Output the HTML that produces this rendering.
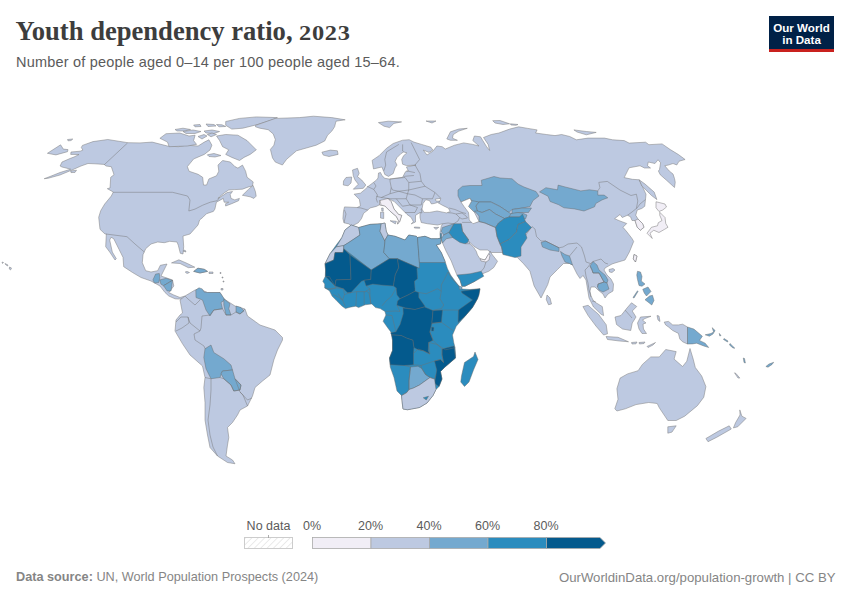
<!DOCTYPE html>
<html><head><meta charset="utf-8">
<style>
html,body{margin:0;padding:0;background:#fff;width:850px;height:600px;overflow:hidden;position:relative}
.t{position:absolute;white-space:nowrap}
#title{left:15.5px;top:16px;font-family:"Liberation Serif",serif;font-weight:bold;font-size:26.6px;color:#3d3d3d;letter-spacing:0px}
#sub{left:16px;top:53.5px;font-family:"Liberation Sans",sans-serif;font-size:14.5px;letter-spacing:0.2px;color:#5b5b5b}
#logo{position:absolute;left:769px;top:16px;width:65px;height:36px;background:#002147}
#logo .bar{position:absolute;left:0;bottom:0;width:65px;height:3px;background:#c9211e}
#logo .lt{position:absolute;left:0;width:65px;text-align:center;color:#fff;font-family:"Liberation Sans",sans-serif;font-weight:bold;font-size:11.6px;letter-spacing:0px;line-height:13px}
.lg{font-family:"Liberation Sans",sans-serif;font-size:12.5px;color:#5b5b5b}
.ft{font-family:"Liberation Sans",sans-serif;font-size:12.7px;color:#858585;top:570px}
svg{position:absolute;left:0;top:0}
</style></head><body>
<svg width="850" height="600" style="position:absolute;left:0;top:0">
<g fill="#bdc9e1" stroke="#7d7d7d" stroke-width="0.5" stroke-linejoin="round"><polygon points="351.9,226 358.3,222.8 361.5,218.6 363.6,213.3 367.8,210.1 369.9,208 376.3,206.4 379.5,204.8 384.8,205.9 390.1,211.2 396.4,216.5 398.5,220.7 397.5,223.9 399.5,222 401.7,215.4 398.5,214.4 394,209 391.1,201.6 388,198.5 394.3,201.6 400.7,208 407,214.4 411.2,217.5 413.4,221.8 411.2,223.9 415.5,222 415.5,215.4 420,212.5 420,217.5 421.25,222.5 427.5,223.75 437.5,225 442.5,223.75 441.25,226.25 440,232.5 440.5,238 442.5,243 446,251 451.25,261 454,268 456.9,275 460,280 461.9,286.25 465,286.25 475,281.25 482.5,273.75 488.75,271.25 493.75,267.5 497.5,261.25 492.5,255 490,251.25 488.75,253.75 485,260 480,258.75 477.5,255 476.25,251.25 473.75,247.5 470,243.75 468.75,241.25 473.75,246.25 480,250 487.5,250 491.25,252.5 500,252.5 502.5,252.5 517.2,257.3 523.5,263.7 529.9,271.1 534.1,285.9 541,298 547.75,284.5 550,277 557.5,269.5 563.5,263.5 569.5,263.5 572.5,265 577,274 580,278.5 583,275.5 586,280 587.5,289 589,298 593.5,307 601.1,314.3 603.6,315.6 602.3,306.6 595.9,302.7 593,300 591,296 590,291 591,287 595,287 598,290 603,294 605,298 608,294 613,291 613.5,284 611,279 607,275 604,270 605,268 612,264 615,263 625,260 629.4,252 633.7,241.4 632,238.5 627,232 623,227.25 626.75,223.5 620,221 614.6,218.7 620,214.5 622.25,217.5 627.5,215.25 630.5,216.75 632,220.5 635,220.5 637.25,227.25 640.25,230.25 644,227.25 642.5,223.5 638,219 635.75,215.25 637.25,210 641.75,208.5 644.75,206.25 645.5,199.5 646,194.2 639.2,179.8 632.4,179.3 624.2,177.6 629.1,167.8 640,165.75 644.5,168 650.5,168 647.5,165.75 648.25,162 655,163.5 658,159.75 660.6,162.75 659.5,169.5 658.4,171 660.25,174.75 666.25,180 674.5,187.5 675.25,182.25 674.5,178.5 673,174 669.25,171 664.75,165.75 668.5,165 673,163.5 676.75,165 679,161.25 685.1,159.5 678.5,154.6 670.3,149.6 662.1,143.9 648.9,144.7 645.6,142.2 629.1,143.1 624.2,140.6 612.6,139.8 604.4,138.1 588,138.1 576.4,139.8 569.8,136.5 561.6,134.5 555,135.6 546.3,134.5 535.6,133 537.1,129.9 527.9,128.4 518.7,126.8 509.6,129.1 498.9,133 491.2,134.5 483.5,137.5 488.1,144.4 489.7,150.5 486.6,146.7 482.8,140.6 480.5,136.8 474.4,136 472.8,140.6 479,146 472.8,144.4 463.7,142.9 454.5,145.2 445.3,149 442.2,146.7 436.9,146 433,151 427,155 423.3,150.1 429,152.4 432.8,150.1 430.9,147.2 421.5,144.4 413.9,142.1 409.2,139.7 402.6,140.2 393.2,143.5 386.6,148.2 379.1,155.7 372.1,160.4 373.5,168.9 381.9,167 383.8,171.7 384.8,174.5 388.5,176.4 393.2,173.6 395.1,167.9 397,165.1 395.1,161.3 397,157.6 400.8,153.8 403.6,151.9 406.9,152.9 403.6,155.7 401.7,159.5 402.6,164.2 406.4,165.6 415.8,165.1 408.3,166.5 406.4,167 408.3,170.8 405.5,171.7 402.6,177.3 396,178.3 390.4,179.2 384.8,178.3 381.9,175.5 380.5,172.5 378.5,173 378,178 376.3,180.2 372,183.5 368,186.5 365,189.4 360.4,193.2 354.1,194.2 359.4,199.5 360.4,205.9 357.2,207.5 344.5,206.9 343.5,211.2 342.9,218.6 344,222.8 348.8,223.9"/><polygon points="352.5,170 357.5,168.3 359.2,173.3 357.5,176.7 361.7,180 365.8,185 363.3,188.3 353.3,189.2 358.3,184.2 355,180 353.3,175.8"/><polygon points="343.5,181 346,177.5 351.7,177 351,183 348,185.8 343.3,185"/><polygon points="378.4,122.6 388.2,121.2 401.6,121.9 393.9,123.4 389.6,127.6 384,126.2"/><polygon points="426,121 436,121 432,123"/><polygon points="446.8,138.9 450.4,131.8 458.8,129 467.3,128.3 458.8,131.1 453.2,134.6 452.5,138.2 457.4,140.3 450.4,140.3"/><polygon points="492.7,120.7 500,120.5 509.6,123.8 503,124.5 495,123"/><polygon points="510.3,123.8 518,124.5 516,125.3 511,125"/><polygon points="573.9,129.9 586.3,131.5 596.2,132.4 586.3,134.8 577,132"/><polygon points="380.5,212.2 383.7,212.2 383.7,218.6 380.5,218"/><polygon points="381.6,208 383.2,208 383.2,211.2 381.8,211"/><polygon points="390.1,220.7 396.4,221.3 395.4,223.9"/><polygon points="414.4,227 419.7,227.3 419.7,228.3 414.4,228"/><polygon points="433.75,227.5 438.75,227.3 436,229.4"/><polygon points="547,295 550,298 551.5,304 548.5,304.75 546.25,299.5"/><polygon points="634,254.5 637,256 635.5,262 633.25,259"/><polygon points="609,269.5 613,268.5 615,270 612,272.5 609.5,272"/><polygon points="639.2,179.8 645,184 654.2,192.1 656.9,199.6 651.5,195.5 641.9,186"/><polygon points="582.9,306.6 588.1,305.3 598.5,314.3 606.2,324.7 607.5,333.8 603.6,335 595.9,326 588.1,315.6"/><polygon points="606,336.5 618,337.25 628.5,341.75 619.5,341 607.5,339.5"/><polygon points="631.5,342.5 637,342 636,343.8 632,344"/><polygon points="639,342.5 645,342 644,343.5 639.5,344"/><polygon points="647,346.5 655.5,342.5 653,345 648,347.5"/><polygon points="657,315.5 659,316 660,321.5 658,320"/><polygon points="615,317 621,315.5 627,308 631.5,302.75 636.75,306.5 632.25,311 636,317 632.25,323 630.75,330.5 622.5,329 616.5,324.5"/><polygon points="640.5,317 651,316.25 645,318.5 642.5,320 646,323 643,324 643.5,329 646.5,333.5 642,333.5 639,329 637.5,323 639.75,318.5"/><polygon points="664.2,322.1 668.5,321.4 672.7,324.9 678.4,324.9 682.6,324.2 687.5,327 687.5,344 682.6,341.8 679.8,339 678.4,333.4 672.7,330.5 668.5,327 665.6,324.9"/><polygon points="614.8,408.8 618,399.3 616.9,388.7 620.1,378.1 627.5,373.9 638.1,370.7 642.4,364.4 650.8,356.9 659.3,356.9 665.7,349.5 676.2,351.6 674.1,359.1 682.6,366.5 686.8,361.2 690,348.5 693.2,359.1 695.3,367.5 701.7,376 705.9,386.6 703.8,397.2 697.4,405.7 684.7,416.2 676.2,420.5 667.8,420.5 663.5,414.1 659.3,407.8 657.2,403.5 648.7,402.5 636,404.6 625.4,408.8 616.9,411"/><polygon points="667.8,426.8 676.2,425.8 672,432.1 667.8,433.2"/><polygon points="739.8,409.9 741.9,416.2 746.1,418.4 737.7,426.8 733.4,427.9 735.6,422.6 740,415"/><polygon points="729.2,425.8 731.3,429 716.5,437.4 708,441.7 705.9,438.5 718.6,431.1"/><polygon points="734.5,372.8 736,373.5 739.8,378.1 738,378"/><polygon points="44.2,178.7 50,176.5 60,172.5 70.7,169.2 66,168 62,167 60.1,166 62,162 70,158.5 74,157 79,154.5 70.7,154.4 71,152 80.2,151.2 82.9,150.1 81.3,147.5 82.4,145.4 93,141.6 107.8,139.5 127.9,142.7 140,142.9 152.2,142.1 167.5,146 178.3,146.7 185.9,145.2 198.1,146 204.3,142.1 208.9,139.8 211.9,145.2 210,150 204.3,154.4 193.6,159 187.4,166.6 189,171.2 198.1,174.3 202.7,177.3 203.5,185 206.6,185 208.9,178.9 216.5,175.8 218.8,171.2 218,165.1 222.6,160.5 230.3,162 234.9,166.6 237.9,168.1 242.5,165.1 245.6,171.2 247.1,177.3 253.2,181.9 252.4,186.1 248.6,186.9 242.4,189.2 234.8,189.6 228.7,190 224.1,193 219.5,196.8 218,198.4 221.8,196.1 227.1,192.6 232.5,191.5 230.2,194.5 231,198.4 234.8,199.9 239.4,198.4 238.6,200.7 231.7,203.7 225.6,206 225.6,203.7 228.7,202.2 224.1,202.2 223.3,198.4 216.4,202.2 214.9,209.1 213.4,211.4 206.5,213.7 202.7,217.5 199.6,220 198,225 190,234 183,236 183.7,246.7 183,254 180.3,253.3 178.3,245.3 177,242 169.7,241.3 164.3,242.7 157.7,242 151,244 145.7,248.7 143,254.7 142.3,262.7 145.7,270.7 151,272 157.7,270.7 160.3,265.3 167,264 163,272 161,276 172.5,280 173.8,286 168.8,292.5 173.8,295 180,297.5 185,296 183,299 178,299 175,298.8 168.8,296 165,292.5 160,286 151,281 141,277.5 132.5,272.5 123.7,266.7 123,257.3 119,249.3 113.7,238.7 111,237.3 109.7,240 112.3,252 116.3,258.7 115,260 109.7,252 105.7,246.7 106.3,234 105,234 100,229.3 98.7,217.3 100.7,210.7 104.7,204 111.3,196 113.3,192 107.3,188.7 110,188 110.7,177.3 114,174.7 111.3,166.7 106,166 104.1,164.4 95,163.8 88,163.5 81,166 72,170 60,175 48,178.3"/><polygon points="47.4,153.3 60.6,144.8 63.3,149.1 68,149.6 67.5,151.7 55.9,154.9"/><polygon points="67.5,139.5 72.8,139 71,140.6 68,140.8"/><polygon points="70.7,171 76.5,170.2 75,172.4 71,172.6"/><polygon points="159.9,138.3 166,133.7 179.8,133 189,136 195.1,135.2 193.6,140.6 196.6,144.4 187.4,146 169.1,146.7 167.5,142.1"/><polygon points="216.5,136 225.7,134.5 237.9,135.2 247.1,140.6 250.2,143.7 256.3,149.8 250.2,154.4 244,157.4 239.5,160.5 231.8,157.4 225.7,154.4 228.7,149.8 222.6,146.7 219.6,140.6"/><polygon points="207.3,154.8 214,153.5 221,155.5 215,157 209,156.5"/><polygon points="175,129.5 183,128.2 190.5,129.5 185,131 177,131"/><polygon points="183,131.5 193,130 201,131.5 195,133.5 186,133.5"/><polygon points="193.6,125 200,124.5 201,126.5 195,126.8"/><polygon points="206,124 214,124.5 216,126 208,126.5"/><polygon points="204,131 212,130 219.6,131.5 214,133.5 206,133"/><polygon points="198,136.5 204,134.5 207,136 202,139"/><polygon points="225.7,121.5 239.5,118.4 256.3,116.9 277.4,117.6 272.5,119.8 257,124.7 242.8,128.2 231.8,129.1 225.7,125.3"/><polygon points="255.5,125.4 275.3,118.4 299.3,117.6 313.4,116.2 331.8,117.6 345.2,119.8 336,121.2 334.6,126.8 331.8,131.1 327.5,135.3 324.7,141 316.2,145.2 306.4,148 296.5,150.8 286.6,159.3 282.4,165 275.3,162.1 272.5,157.9 270.4,149.4 273.9,145.2 275.3,139.5 273.2,133.9 268.2,129.7 259.8,128.2 255.5,126.8"/><polygon points="242.4,195.3 248.6,189.2 253.1,185.4 255.4,191.5 256.2,196.1 253.9,198.4 250.1,196.8"/><polygon points="321.9,152.2 330.4,150.1 337.4,150.8 338.1,154.4 329,156.5 323.3,155.1"/><polygon points="171.5,262.9 178.9,259.8 187.4,263.5 194.8,267.2 188.4,267.7 180,263.5"/><polygon points="185.2,272 187,271.4 189.5,272.5 187,273.5"/><polygon points="193.7,271.4 197.9,268.2 204.3,269.3 207.5,271.4 200,273"/><polygon points="209,272 213,272 213,273.5 209,273.5"/><polygon points="185,296 195,290 198.8,288.8 207.5,292.5 220,292.5 223.8,298.8 235,306 245,309 247.5,316 260,325 275,330 282.5,337.5 282.5,340 277.5,350 273.8,360 270,375 262.5,381 255,387.5 252.5,396 247.5,406 240,410 237.5,415 232.5,422.5 227.5,427.5 228.8,437.5 227.5,445 226,456 232.5,460 235,463.75 227.5,462.5 217.5,456 210,447.5 207.5,435 205,420 205,402.5 203.8,387.5 205,377.5 202.5,366 190,355 182.5,343.8 175,331 176,320 180,315 182.5,313 180,300"/><polygon points="220,272.5 221,272.5 221,273.5 220,273.5"/><polygon points="222,277 223,277 223,278 222,278"/><polygon points="223,281 224,281 224,282 223,282"/><polygon points="221,288.5 223,288.5 223,290 221,290"/><polygon points="183,251 185,250 186,252"/><polygon points="2,262 3.5,262.5 2.5,263.5"/><polygon points="5,263.5 8,265 7.5,266 5.5,264.5"/><polygon points="9.5,267 11.5,268 10.5,270 9.3,269"/><polygon points="216.5,124.5 222,124.8 225.7,126.5 219,126.8"/><polygon points="207.3,134.5 212,133 216.5,134.5 211,136.8"/></g>
<g stroke="#6a6a6a" stroke-width="0.45" stroke-linejoin="round"><polygon fill="#2b8cbe" points="351.25,225 358.75,227.5 370,224.4 381.25,223.75 385,223 386.25,231.25 388,235 395,236.25 405,240 408.75,235 416.25,236.25 417.5,237.5 425,236.25 431.25,238.75 437.5,238.75 441.25,238.1 440.6,243.75 436.25,245 441.25,252.5 445,261.25 447.5,268.75 450.6,275 455,281 459,286 462,289 470,289.5 480,288.75 477.5,298.75 472.5,307.5 465,316.25 456.25,326.25 452.5,335 453.75,342.5 455,347.5 455.6,355 455.5,358 445,367 440.5,371.5 442,379 439,386.5 436,389.5 433,395.5 427,403 419.5,407.5 407.5,409.75 403,409 402.25,403 401.5,395.5 397,391 394,377.5 390.25,367 389.5,358 392.5,350.5 392.5,340 391.25,332.5 387.5,327.5 383.1,321.25 385.9,315 384.9,311.4 380.2,308.6 375.5,307.6 371.8,303.9 365.2,304.8 358.6,307.6 355.8,306.2 350.1,307.2 345.4,308.6 341.6,305.8 336,300.1 332.2,296.3 329.4,290.7 324.7,287.9 324.7,284.1 322.8,281.3 325.2,276.6 325.6,270 325,263.75 330,253.75 336.25,245 341.9,237.5 345,230"/><polygon fill="#2b8cbe" points="475,352 478,359.5 473.5,370 469,382 464.5,386.5 460.75,382 461.5,376 464.5,362.5 473.5,356.5"/><polygon fill="#bdc9e1" points="351.25,225 358.75,227.5 360,235 348.75,242.5 343.75,245.6 336.25,246.9 341.9,237.5 345,230"/><polygon fill="#bdc9e1" points="336.25,246.9 343.75,245.6 343.75,248.75 343.1,252.5 335,252.5 333.75,260 325,263.75 330,253.75"/><polygon fill="#74a9cf" points="358.75,227.5 370,224.4 381.25,223.75 380,231.25 385,241.25 383.75,252.5 389.4,258.75 371.25,270 343.75,248.75 343.75,245.6 348.75,242.5 360,235"/><polygon fill="#bdc9e1" points="381.25,223.75 385,223 386.25,231.25 388,235 385,240 385,241.25 380,231.25"/><polygon fill="#74a9cf" points="388,235 395,236.25 405,240 408.75,235 416.25,236.25 417.5,237.5 419.4,262.5 419.4,268.1 417.5,267.5 397.5,258.75 389.4,258.75 383.75,252.5 385,241.25 385,240"/><polygon fill="#74a9cf" points="417.5,237.5 425,236.25 431.25,238.75 437.5,238.75 441.25,238.1 440.6,243.75 436.25,245 441.25,252.5 445,261.25 445,262.5 419.4,262.5"/><polygon fill="#045a8d" points="325,263.75 333.75,260 335,252.5 343.1,252.5 343.75,248.75 350,255 351,279.4 336,279.9 335,286 325.6,276.6 325.6,270"/><polygon fill="#045a8d" points="350,255 371.25,270 370.8,279.4 364.2,280.3 361.4,281.3 351,292.6 347.3,292.6 343.5,288.8 335,286 336,279.9 351,279.4"/><polygon fill="#045a8d" points="371.25,270 389.4,258.75 397.5,258.75 398.75,267.5 395.3,274.7 393.4,286 381.2,285.1 372.7,284.1 366.1,286 364.2,280.3 370.8,279.4"/><polygon fill="#045a8d" points="397.5,258.75 417.5,267.5 416.9,268.75 417.5,278.75 414.4,281.25 415,288.75 415,291.25 408,295 400,298.75 397,295 396.2,287.9 393.4,286 395.3,274.7 398.75,267.5"/><polygon fill="#045a8d" points="400,298.75 408,295 415,291.25 418.75,292.5 418.75,297.5 425,306.25 424.5,306.9 415,309.5 405.4,307.9 396.9,305.3 397.5,301"/><polygon fill="#045a8d" points="403,308 415,309.5 424.5,306.9 433,310.6 431.9,323.3 429.8,331.8 433,340.2 428.7,342.4 428.2,350.8 429.8,354 423.4,350.8 418.1,349.8 413.9,347.6 412.8,340.2 406.5,338.1 401.2,335.5 391.6,334.9 390.6,332.8 395.9,331.8 400.1,324.4 403.3,313.8"/><polygon fill="#045a8d" points="391.6,334.9 401.2,335.5 406.5,338.1 412.8,340.2 413.9,347.6 413.5,353.5 413.5,364.75 404.5,365.5 390.25,364.75 389.5,358 392.5,350.5 392.5,340"/><polygon fill="#045a8d" points="433,310.6 442.5,310.1 441.4,322.2 431.9,323.3"/><polygon fill="#045a8d" points="461.25,291.25 470,290 480,288.75 479,295 477.5,298.75 472.5,307.5 465,316.25 458.1,322.5 458.4,310.1 472.5,300 462,293"/><polygon fill="#045a8d" points="442,349 454,346 455.5,358 445,367 440.5,371.5 442,379 439,386.5 434.5,383.5 436,374.5 436.75,370 434.5,361 440.5,359.5 443.5,362.5 442,355"/><polygon fill="#045a8d" points="431.5,327 434,327.5 433.5,331 431.5,331"/><polygon fill="#74a9cf" points="410.5,367 418,366.25 421.75,368.5 425.5,374.5 430,377.5 419.5,385 413.5,388 409,389.5 409,380.5"/><polygon fill="#bdc9e1" points="401.5,395.5 406.75,392.5 409,389.5 413.5,388 419.5,385 430,377.5 434.5,379 436,389.5 433,395.5 427,403 419.5,407.5 407.5,409.75 403,409 402.25,403"/><polygon fill="#2b8cbe" points="423.25,397.75 428.5,396.25 426.25,400"/><polygon fill="#74a9cf" points="459,286 462,287 462,289 459.5,289.5"/><polygon fill="#74a9cf" points="470,198.25 479,202 476,206 477.5,211 474.5,212.5 468.5,206.5 471.5,201.25"/><polygon fill="#74a9cf" points="458,190 462.5,186.25 470,185.5 482,185.5 481.25,180.25 494,176.5 500,178 512,178.75 518,184 524,187 536,191.5 539,196 533,200.5 530,206.5 522.5,208 512,209.5 509,212.5 500,206.5 491,202 479,202 471.5,200.5 470,198.25 461,202 458,196"/><polygon fill="#74a9cf" points="479,202 491,202 500,206.5 509,212.5 512,214 509,217 504.5,218.5 495.5,214 489.5,209.5 482,212.5 477.5,211 476,206"/><polygon fill="#74a9cf" points="474.5,211 477.5,211 482,212.5 489.5,209.5 495.5,214 504.5,218.5 498.5,223 495.5,227.5 485,223 479,221.5 479,216"/><polygon fill="#74a9cf" points="512,209.5 522.5,208 531.5,208 528.5,212.5 518,212.5 512,214"/><polygon fill="#74a9cf" points="509,217 511,213.5 518,212.5 522.5,213 527,215 525.5,219 519.5,217 515,217"/><polygon fill="#2b8cbe" points="495.5,227.5 498.5,223 504.5,218.5 509,217 515,217 519.5,217 522.5,214 525.5,221.5 518,224.5 516.5,232 509,239.5 500,244 497,236.5"/><polygon fill="#2b8cbe" points="500,244 509,239.5 516.5,232 518,224.5 525.5,221.5 531.5,227.5 525.5,233.5 527,238 521,247 521,256 515,257.5 503,254.5 501.5,247"/><polygon fill="#74a9cf" points="539.5,191.9 545.9,187.7 557.5,189.8 558.1,185.1 566,187.2 572.4,188.8 580.8,190.9 589.3,189.8 597.8,190.9 597.8,195.1 604.1,195.1 607.8,197.8 602,199.9 595.7,203.6 594.6,206.8 584,211 574.5,208.9 563.9,207.8 558.6,204.7 550.1,201.5 548,196.2"/><polygon fill="#74a9cf" points="541,242.5 545.5,241 559,247.75 559,251.5 550,250 542.5,247"/><polygon fill="#74a9cf" points="560.5,251.5 565,254.5 569.5,256 572.5,265 569.5,263.5 565,262 562,256"/><polygon fill="#74a9cf" points="590,266 593,261.5 597,265 599,270 605,275 608,280 607,283 604,282 599,273 593,273 592,270"/><polygon fill="#74a9cf" points="598,284 604,282 607,283 609,289 603,292 599,290 597.5,287"/><polygon fill="#2b8cbe" points="448.75,232.5 453.75,223.75 461.25,223.75 462.5,231.25 468.75,240 467.5,242.5 465,243.75 460,242.5 452.5,237.5"/><polygon fill="#74a9cf" points="442.5,227.5 453.75,223.75 448.75,232.5 443.75,235 441.25,231.25"/><polygon fill="#74a9cf" points="443.75,235 448.75,232.5 452.5,237.5 446.25,238.75 442.5,243 441.25,238.75"/><polygon fill="#2b8cbe" points="440.2,233.5 441.5,233.5 441.5,238 440.3,238"/><polygon fill="#2b8cbe" points="457,275 470,273.75 481.25,271.25 483.75,276.25 475,281.25 465,286.25 461.9,286.25 460,280"/><polygon fill="#f1eef6" points="480,258.75 485,260 488.75,253.75 490,255 489,260 486,262 481,261"/><polygon fill="#f1eef6" points="656,201.75 665,204 666.5,207 662.75,210 659,211.5 656,207.75"/><polygon fill="#f1eef6" points="659.75,212.25 665,217.5 665.75,223.5 668,227.25 664.25,229.5 659,232.5 653.75,230.25 650,233.25 652.25,238.5 647,233.25 651.5,227.25 657.5,225.75 658.25,222.75 662,220.5 659.75,215.25"/><polygon fill="#f1eef6" points="635,220.5 638,219 642.5,223.5 644,227.25 640.25,230.25 637.25,227.25"/><polygon fill="#f1eef6" points="379.5,200.6 388,198.5 391.1,201.6 394,209 398.5,214.4 401.7,215.4 399.5,222 397.5,223.9 398.5,220.7 396.4,216.5 390.1,211.2 384.8,205.9 379.5,204.8"/><polygon fill="#74a9cf" points="637.5,271.25 640.5,272 642,276.5 641.25,281 645,284 642,286.25 639,285.5 637.5,279.5 636.75,275"/><polygon fill="#74a9cf" points="645,299.75 649.5,296 652.5,295.25 654,300.5 651.75,305 648,302"/><polygon fill="#74a9cf" points="633,297.5 637.5,290.75 638,291.5 634,298"/><polygon fill="#74a9cf" points="642.75,289.25 648,287 651,291.5 646.5,296 644.25,293"/><polygon fill="#74a9cf" points="687.5,327 693.9,329.1 702.4,336.2 699.5,340.4 705.2,343.2 708.7,347.5 703.8,346 696.7,343.2 692.5,343.9 687.5,344"/><polygon fill="#74a9cf" points="705.2,334.8 711,333.5 713.6,331.9 712.2,327.7 715.1,330.5 713,334 709.4,336.2"/><polygon fill="#74a9cf" points="719.3,333.4 721,335.5 719.8,336"/><polygon fill="#74a9cf" points="724,338.5 728,341 727.5,342 723.5,339.5"/><polygon fill="#74a9cf" points="730,343.5 734.8,348.2 733,348 729.5,345"/><polygon fill="#74a9cf" points="743.3,358 744.5,358.5 745.4,363 744,362.5"/><polygon fill="#74a9cf" points="765.9,366.5 769,364 773.7,362.3 772,364.5 768,367.2"/><polygon fill="#74a9cf" points="152.9,279.9 155.6,274.1 159.3,273.5 159.8,277.8 158.8,282.5 154.5,283.1"/><polygon fill="#74a9cf" points="159.8,279.9 166.2,278.3 172.5,280.4 163.5,285.7 160.9,284.1"/><polygon fill="#74a9cf" points="163.5,285.7 172.5,280.4 171,291 167.2,291"/><polygon fill="#74a9cf" points="193.7,271.4 197.9,268.2 204.3,269.3 207.5,271.4 200,273"/><polygon fill="#74a9cf" points="195.8,290 199,287.8 202.2,288.9 204.3,292.1 207.5,292.5 220,292.5 225,300 221,302.5 222.5,308.8 213.8,310 210,316 206,310 202.5,300 196,297.5"/><polygon fill="#74a9cf" points="223.8,298.8 230,303.8 228.8,308.8 231,315 226,315 223.8,305"/><polygon fill="#74a9cf" points="236,306 241,307.5 244,311 240,314 236,312"/><polygon fill="#74a9cf" points="205,348.75 211,345 213.8,352.5 223.8,358.75 231,365 232.5,370 222.5,371 220,377.5 211,378.75 206,368.75 203.8,357.5"/><polygon fill="#74a9cf" points="222.5,371 232.5,370 235,378.75 241,385 240,390 233.75,391 231,385 223.75,378.75 221,373.75"/><polygon fill="#f1eef6" points="634,254.5 637,256 635.5,262 633.25,259"/></g>
<g fill="none" stroke="#6f6f6f" stroke-width="0.45" stroke-linejoin="round"><polyline points="418.75,292.5 426.25,293.75 437.5,288.75 441.25,291.25"/><polyline points="441.25,291.25 440,298.75 443.75,305 441.25,308.75 433.75,310"/><polyline points="441.25,291.25 441.25,285 444,280 448,272"/><polyline points="448,272 452,279 459,286"/><polyline points="442.5,310.1 452.5,310 458.4,310.1"/><polyline points="441.4,322.2 453.1,330.7"/><polyline points="431.9,323.3 441.4,322.2"/><polyline points="429.8,331.8 433,340.2 437.2,344.5 445.6,349.8 455.2,347.6"/><polyline points="413.5,353.5 418,349 423.4,350.8 429.8,354 428.7,342.4 437.2,344.5 442,349 442,355 443.5,362.5 440.5,359.5 434.5,361 430,362.5 421,365.5 413.5,364.75"/><polyline points="421,365.5 421.75,368.5 425.5,374.5 430,377.5 434.5,379 436,374.5"/><polyline points="404.5,365.5 410.5,367 409,380.5 409,389.5 406.75,392.5 401.5,395.5"/><polyline points="325.6,276.6 329.4,276.6 335,286 336,287.9 328.5,288.8 324.7,287.9"/><polyline points="329.4,289.8 336,287.9 343.5,288.8 344.5,294.5 342.6,300.1 338.8,297.3 333.2,294.5"/><polyline points="337.9,293.5 342.6,300.1 345.4,306.6"/><polyline points="344.5,294.5 351,292.6 356.7,291.6 355.8,306.2"/><polyline points="356.7,291.6 365.2,291.6 369.9,288.8 366.1,286"/><polyline points="364.2,291.6 364.2,304.8"/><polyline points="366,291 369,293 370.8,303.9"/><polyline points="369.9,288.8 369.9,293.5 370.8,303.9"/><polyline points="396.2,287.9 391.5,296.3 385.9,301.1 382.1,305.8"/><polyline points="385.9,311.4 396,311 400,311.4 396.9,305.3"/><polyline points="385.9,315 392,315.5 395.9,331.8"/><polyline points="366.9,186.25 373.75,189.4 377.5,195 376.25,198.75 377.5,202.5"/><polyline points="373.75,182.5 376,186 373.75,189.4"/><polyline points="390,178.75 390,181.25 391.25,187.5 390,193.75 381.25,197.5 376.25,196.25"/><polyline points="390,178.75 405,177.5 408.75,182.5 408.75,190 398.75,191.25 392.5,190 391.25,187.5"/><polyline points="408.75,182.5 421.25,181.25 425,186.25 408.75,190"/><polyline points="408.75,190 407.5,193.75 415,195 422.5,198.75 432.5,198.75 435,192.5 425,186.25"/><polyline points="415,165 420,173.75 421.25,181.25"/><polyline points="435,192.5 440,197.5 439,203"/><polyline points="390,193.75 398.75,191.25 407.5,193.75 406.25,198.75 396.25,198.75 390,198.75 381.25,197.5"/><polyline points="406.25,198.75 410,205 421.25,205 422.5,198.75"/><polyline points="396.25,198.75 402.5,206.25 410,205 417.5,207.5 415,212.5 405,212.5"/><polyline points="398.9,144.4 386.6,151.9 384.8,159.5 385.7,165.1 383.8,170.8"/><polyline points="402.6,144.4 402.6,151 403.6,151.9"/><polyline points="411.1,142.5 414.9,150.1 419.6,159.5 414.9,165.1"/><polyline points="406.4,170.8 414.9,172.6"/><polyline points="403.6,176.4 413.9,175.5"/><polyline points="357.2,207.5 361,208 367.8,210.1"/><polyline points="344.5,210 346,214 344,222.8"/><polyline points="380,200 381,204.8"/><polyline points="420,212.5 422,213 421,209 422.5,208.75"/><polyline points="449,208 455,209.5 462,212.5 466,213.5"/><polyline points="456,214 462,213 466,216 467.5,218 462,219 459.6,217.6"/><polyline points="113.3,192.3 172.5,192.3 187.5,196 190,200 188.8,211 195,209.1 202.7,205.2 210.3,202.2 217.2,200.7 219.5,197.6"/><polyline points="127.5,143 104.5,164.5 105,165"/><polyline points="106,234 127,236.7 135,244 144.3,252"/><polyline points="597.8,190.9 599.9,187.7 598.8,182.4 607.3,181.4 620.1,190.1 631,195.5 636.4,194.2 637.8,201 636.4,208.5"/><polyline points="532,226.6 535,229 536.5,236.5 541,241 545.5,241 559,247.75 563,247 568,244 577,243 581.5,247 584.5,256 586,262 590.5,263.5 593,261.5"/><polyline points="569.5,256 577,247"/><polyline points="590.5,263.5 588,267 585,270 586,276 588,283 589,290 591,297"/><polyline points="525.7,235.1 532,226.6"/><polyline points="462.1,222.4 472.7,222.4 479,221.5 485,223 495.5,227.5 497,236.5 500,244 501.5,247 503,254.5"/><polyline points="461.25,223.75 462.5,231.25 468.75,240"/><polyline points="446.25,212.5 452,213 456,214 459.6,217.6 458,221 453.75,223.75 448,223 442.5,223.75"/><polyline points="465,243.75 470,243.75"/><polyline points="486,262 484,268 481.25,271.25"/><polyline points="593,261.5 601,259 605,263 608,264"/><polyline points="627.5,215.25 632,212 637.25,207.75 640,204 645.5,199.5"/><polyline points="590,266 592,270 593,273 599,273 604,282 598,284 597.5,287"/><polyline points="592,301 596,302"/><polyline points="625,310 632,318"/><polyline points="185,296 188,299 195,305 200,300"/><polyline points="210,315 202,316 201,328 200,331 190,323 188,317"/><polyline points="176,331 182,328 189,323 188,317 181,317 176,322"/><polyline points="200,331 194,334 195,340 204,346 205,348.75"/><polyline points="210,315 213.8,310 222.5,308.8 226,315 231,315 236,312 240,314 245,309"/><polyline points="205,377.5 211,378.75 211,390 210,405 208,420 210,435 213,447 217.5,456"/><polyline points="220,377.5 223.75,378.75 231,385 233.75,391 240,390 241,385 235,378.75 240,392 247.5,400 252,398"/><polyline points="240,392 243,395 247.5,406"/></g>
<g fill="#ffffff" stroke="#7d7d7d" stroke-width="0.5"><polygon points="422,209.1 423,203.5 425.8,199.7 429.5,200.6 431.4,203.9 434.2,203.5 437.5,202.5 442.7,205.4 448.4,208.2 450.2,211.5 446.5,212.9 437.1,211 429.5,212.4 423.9,212.4"/><polygon points="435.2,199.2 440.8,198.3 439.9,201.1 436.1,201.1"/><polygon points="461,202 470,198.25 471.5,201.25 468.5,206.5 474.5,212.5 479,221.5 473,223.75 469.25,220 468.5,212.5 464,206.5"/></g>
</svg>
<svg width="850" height="600" style="position:absolute;left:0;top:0">
<defs><pattern id="hatch" patternUnits="userSpaceOnUse" width="4.5" height="4.5" patternTransform="rotate(45)"><rect width="4.5" height="4.5" fill="#fff"/><line x1="0" y1="0" x2="0" y2="4.5" stroke="#e0e0e0" stroke-width="1.3"/></pattern></defs>
<rect x="244.5" y="537.5" width="48" height="11" fill="url(#hatch)" stroke="#ccc" stroke-width="1"/>
<line x1="268.5" y1="535" x2="268.5" y2="538" stroke="#999" stroke-width="0.8"/>
<rect x="312.5" y="537.5" width="58.5" height="11" fill="#f1eef6" stroke="#aaa" stroke-width="0.8"/>
<rect x="371" y="537.5" width="58.5" height="11" fill="#bdc9e1" stroke="#aaa" stroke-width="0.8"/>
<rect x="429.5" y="537.5" width="58.5" height="11" fill="#74a9cf" stroke="#aaa" stroke-width="0.8"/>
<rect x="488" y="537.5" width="58.5" height="11" fill="#2b8cbe" stroke="#aaa" stroke-width="0.8"/>
<path d="M546.5 537.5 H600 L605.5 543 L600 548.5 H546.5 Z" fill="#045a8d" stroke="#aaa" stroke-width="0.8"/>
<g font-family="Liberation Sans, sans-serif" font-size="12.5" fill="#5b5b5b" text-anchor="middle">
<text x="268.5" y="530">No data</text>
<text x="312" y="530">0%</text>
<text x="370.5" y="530">20%</text>
<text x="429" y="530">40%</text>
<text x="487.5" y="530">60%</text>
<text x="546" y="530">80%</text>
</g>
</svg>
<div class="t" id="title">Youth dependency ratio, <span style="display:inline-block;font-size:20px;letter-spacing:0.6px;transform:scaleX(1.22);transform-origin:0 0">2023</span></div>
<div class="t" id="sub">Number of people aged 0–14 per 100 people aged 15–64.</div>
<div id="logo"><div class="lt" style="top:4.5px">Our World</div><div class="lt" style="top:16.8px">in Data</div><div class="bar"></div></div>
<div class="t ft" style="left:16px"><b>Data source:</b> UN, World Population Prospects (2024)</div>
<div class="t ft" style="right:14.5px;font-size:13.2px;top:569.5px">OurWorldinData.org/population-growth | CC BY</div>
</body></html>
